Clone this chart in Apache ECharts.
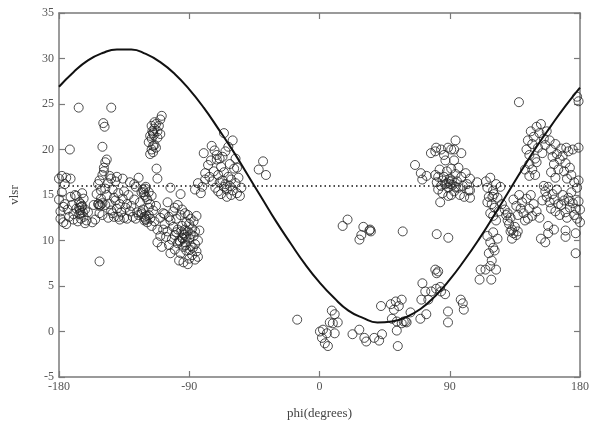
<!DOCTYPE html>
<html><head><meta charset="utf-8">
<script src="https://cdn.jsdelivr.net/npm/echarts@6/dist/echarts.min.js"></script>
<style>html,body{margin:0;padding:0;background:#fff}#c{width:592px;height:425px}</style>
</head><body><div id="c"></div>
<script>
// x axis ticks (phi, degrees) and y axis ticks (vlsr)
const xTicks = [-180, -90, 0, 90, 180];
const yTicks = [-5, 0, 5, 10, 15, 20, 25, 30, 35];
const refLevel = 16;

// fitted curve
const curvePhi = [-180,-170,-160,-150,-140,-130,-120,-110,-100,-90,-80,-70,-60,-50,-40,-30,-20,-10,0,10,20,30,40,50,60,70,80,90,100,110,120,130,140,150,160,170,180];
const curveV   = [26.9,28.5,29.8,30.6,31.0,31.0,30.5,29.6,28.3,26.6,24.6,22.3,19.9,17.3,14.7,12.1,9.7,7.4,5.4,3.7,2.3,1.5,1.0,1.1,1.6,2.5,3.9,5.7,7.8,10.1,12.6,15.2,17.8,20.3,22.6,24.8,26.8];

// observed points [phi, vlsr]
const obsWest = [
 [-180,14.5],[-179,13.2],[-178,15.3],[-177,12.0],[-176,14.0],[-175,16.9],[-174,13.4],[-178,17.1],[-173,12.6],[-172,14.8],
 [-171,13.9],[-170,12.3],[-169,15.0],[-175,11.8],[-179,12.4],[-177,13.7],[-172,16.8],[-170,12.9],[-168,13.5],[-167,12.1],
 [-166,14.2],[-165,13.0],[-164,13.8],[-163,12.6],[-164,15.2],[-162,13.4],[-161,12.2],[-163,14.6],[-165,12.4],[-166,13.6],
 [-162,11.9],[-160,13.1],[-168,14.9],[-176,16.2],[-180,16.8],[-157,12.0],[-152,7.7],[-172.5,20.0],[-166.4,24.6],[-143.9,24.6],
 [-149.4,22.9],[-148.5,22.5],[-150,20.3],[-165.5,13.3],[-164.5,13.7],[-166,12.9],[-163.5,13.1],[-164.8,14.0],
 [-152,16.6],[-153,16.2],[-150,17.2],[-149,18.0],[-148,18.6],[-147,18.9],[-149,17.6],[-151,15.5],[-153,14.0],[-152,13.8],
 [-150,14.1],[-148,13.9],[-147,15.0],[-146,16.3],[-145,17.1],[-144,16.8],[-143,15.6],[-142,14.7],[-141,16.5],[-140,17.0],
 [-139,15.2],[-138,14.0],[-137,13.1],[-136,16.8],[-135,15.4],[-134,13.6],[-133,12.4],[-132,15.0],[-131,16.4],[-130,13.8],
 [-129,12.6],[-128,14.5],[-127,15.9],[-126,13.1],[-125,12.8],[-124,14.2],[-123,15.3],[-122,13.4],[-121,12.2],[-120,14.8],
 [-146,12.5],[-144,13.3],[-142,12.6],[-140,13.5],[-138,12.3],[-150,12.8],[-155,12.3],[-156,13.9],[-154,15.1],[-145,14.0],
 [-141,14.4],[-136,14.6],[-133,14.0],[-128,16.2],[-125,16.9],[-143,13.0],[-148,15.7],[-151,14.6],[-152,13.0],[-139,12.6],
 [-135,12.5],[-131,13.2],[-127,12.4],[-123,13.1],[-152.5,14.0],[-151.5,13.9]
];
const obsColumn = [
 [-117,19.5],[-116,20.0],[-115,19.7],[-114,20.5],[-116,21.2],[-115,21.8],[-114,22.3],[-113,22.8],[-112,22.0],[-117,21.5],
 [-118,20.8],[-113,20.2],[-112,21.3],[-111,22.6],[-110,23.3],[-109,23.7],[-110,21.7],[-116,22.6],[-114,23.0],[-115,20.4],
 [-114.5,21.6],[-115.5,22.0],[-112.6,17.9],[-112,16.8]
];
const obsBlob = [
 [-122,15.6],[-121,15.0],[-120,15.9],[-119,14.5],[-118,15.3],[-117,14.0],[-121,12.6],[-120,12.3],[-119,12.0],[-118,12.8],
 [-117,12.4],[-116,11.6],[-115,13.3],[-114,12.1],[-113,13.8],[-112,11.2],[-123,12.9],[-118,13.6],[-116,14.9],
 [-121.5,15.3],[-120.5,15.7],[-120.5,12.4],[-119.5,12.7],
 [-103,15.8],[-96,15.1],[-98,13.9],[-100,13.6],[-105,14.2],[-108,13.0],[-110,12.5],[-107,11.8],[-105,11.0],[-103,12.2],
 [-101,11.5],[-100,10.6],[-99,12.4],[-98,11.2],[-97,10.0],[-96,12.8],[-95,11.6],[-94,10.8],[-93,9.8],[-92,12.0],
 [-91,11.0],[-90,10.2],[-89,9.4],[-88,11.3],[-87,10.5],[-86,9.6],[-85,8.8],[-84,10.0],[-83,11.1],[-88,8.4],
 [-90,8.0],[-92,8.9],[-94,9.3],[-96,8.6],[-98,9.7],[-100,9.0],[-102,10.1],[-104,9.5],[-106,10.4],[-108,11.2],
 [-95,13.4],[-93,13.0],[-91,12.8],[-89,12.4],[-87,12.1],[-97,7.8],[-94,7.6],[-91,7.4],[-86,7.9],[-84,8.2],
 [-101,13.2],[-99,10.9],[-95,10.3],[-93,11.2],[-90,11.8],[-92,10.4],[-89,10.7],[-86,11.0],[-104,12.6],[-107,12.9],
 [-110,10.5],[-112,9.8],[-109,9.3],[-103,8.6],[-85,12.7],[-86,15.6],[-81,15.9],[-84,16.3],[-82,15.2],
 [-94.5,10.2],[-95.5,11.0],[-93.5,10.6],[-96.5,9.9],[-92.5,9.5],[-89.5,9.0],[-87.5,9.2]
];
const obsNorth = [
 [-80,19.6],[-74.5,20.4],[-72.5,19.9],[-66,21.8],[-60,21.0],[-79,17.4],[-79,16.7],[-77,18.3],[-75,18.8],[-73,17.6],
 [-71,18.9],[-70,17.2],[-69,16.4],[-68,18.1],[-67,19.2],[-66,17.5],[-65,16.2],[-64,15.6],[-63,17.0],[-62,18.4],
 [-61,16.7],[-60,15.5],[-59,17.9],[-58,16.3],[-57,15.2],[-56,16.9],[-55,14.9],[-54,15.8],[-72,15.8],[-70,15.4],
 [-68,15.1],[-66,15.9],[-64,14.8],[-62,16.0],[-74,16.5],[-76,17.0],[-71,19.4],[-65,19.8],[-63,20.3],[-58,19.0],
 [-57,18.0],[-67,16.6],[-61,15.0],[-69,19.0],[-39,18.7],[-42,17.8],[-37,17.2]
];
const obsCentre = [
 [-15.4,1.3],[16,11.6],[19.4,12.3],[27.6,10.1],[28.9,10.6],[30.3,11.5],[34.5,11.1],[35.5,11.0],[35,11.2],[57.5,11.0],
 [8.5,2.3],[10.5,1.9],[12.6,1.0],[9.2,0.9],[7.1,1.0],[2.4,0.2],[5.1,-0.2],[1.7,-0.7],[3.7,-1.3],[5.8,-1.6],
 [10.5,-0.2],[0.3,0.0],[22.8,-0.3],[27.5,0.2],[31.0,-0.7],[32.3,-1.1],[37.8,-0.7],[41.2,-1.0],[43.2,-0.3],
 [42.5,2.8],[49.3,3.0],[52.7,3.3],[56.8,3.5],[51.4,2.4],[54.8,2.8],[50.0,1.4],[53.4,1.1],[58.2,1.1],[60.2,1.0],
 [53.4,0.1],[54.1,-1.6],[62.9,2.1],[69.7,1.4],[71.1,5.3],[73.1,4.4],[70.4,3.5],[75.2,3.5],[77.2,4.4],[80.6,4.7],
 [83.4,4.9],[84.0,4.4],[86.8,4.1],[73.8,1.9],[59.5,1.1],[56.8,0.9],[88.8,2.2],[88.8,1.0],[97.6,3.5],[99.0,3.1],
 [99.7,2.4],[110.6,5.7],[118.7,5.7],[111.3,6.8],[114.7,6.8],[80,6.8],[82,6.6],[81,6.4],[81,10.7],[89,10.3]
];
const obsEast = [
 [66,18.3],[70,17.4],[74,17.1],[71,16.7],[80,19.8],[84,20.0],[86,19.4],[87,18.8],[91,20.0],[93,20.0],
 [98,19.6],[93,18.8],[94,21.0],[77,19.6],[88.8,20.2],[80.6,20.2],
 [80,17.2],[81,16.4],[82,15.6],[83,17.8],[84,16.0],[85,15.2],[86,17.0],[87,16.2],[88,17.6],[89,15.8],
 [90,16.8],[91,17.9],[92,16.1],[93,15.4],[94,17.3],[95,16.5],[96,18.0],[97,15.0],[98,17.0],[99,16.0],
 [100,14.8],[101,17.4],[102,16.2],[103,15.5],[104,16.8],[89,14.9],[85,16.6],[91,15.0],[96,15.8],[82,17.0],
 [88,16.3],[94,15.9],[109,16.4],[104,15.5],[104,14.7],[83.4,14.2],[89.5,16.5],[90.5,16.2],[91.5,16.6]
];
const obsFarEast = [
 [115,16.5],[116,15.8],[117,14.8],[118,16.9],[119,14.0],[120,15.5],[121,13.6],[122,16.2],[123,14.7],[124,13.2],
 [125,15.9],[118,13.0],[120,12.7],[116,14.2],[126,14.0],[122,12.2],[119.5,14.8],[120.5,15.1],
 [116,10.5],[118,9.8],[120,9.2],[117,8.6],[119,7.8],[121,8.9],[123,10.2],[120,10.9],[118,7.2],[122,6.8],
 [128,13.4],[129,12.8],[130,12.2],[131,11.8],[132,12.5],[133,11.2],[134,10.8],[135,11.5],[136,10.6],[137,11.0],
 [130,13.0],[132,11.0],[133,10.2],
 [134,14.5],[136,13.8],[138,15.0],[140,14.2],[141,13.0],[143,14.6],[145,13.5],[147,12.7],[148,14.0],[150,13.2],
 [152,12.5],[154,14.4],[137,12.8],[142,12.2],[146,15.0],[139,13.5],[144,12.4],
 [143,20.0],[144,21.0],[145,19.4],[146,22.0],[147,20.6],[148,21.4],[149,19.0],[150,22.5],[151,20.2],[152,21.8],
 [153,22.8],[154,19.6],[155,21.2],[156,20.5],[145,18.4],[147,17.8],[149,17.2],[150,18.6],[157,22.0],[142,17.8],
 [145,17.1],[137.8,25.2],
 [159,21.0],[160,20.0],[161,19.2],[162,18.4],[163,20.6],[164,19.5],[165,17.8],[166,18.9],[167,20.1],[168,19.3],
 [169,17.6],[170,18.5],[171,16.8],[172,19.8],[173,18.0],[174,17.2],[160,17.5],[163,16.9],[175,20.0],[176,16.4],
 [170.5,20.2],[179,20.2],[178,25.8],[179,25.3],
 [155,16.0],[156,15.4],[157,14.8],[158,15.9],[159,14.2],[160,13.5],[161,15.1],[162,14.5],[163,13.2],[164,15.6],
 [165,14.0],[166,12.8],[167,13.9],[168,15.0],[169,14.4],[170,13.1],[171,12.5],[172,14.7],[173,13.6],[174,15.3],
 [175,14.1],[176,12.8],[177,13.5],[178,15.8],[179,14.3],[180,13.4],[180,12.0],[179,16.6],[178,12.4],[172.5,14.3],
 [153,10.2],[156,9.8],[158,11.6],[158,10.8],[162,11.2],[170,11.1],[170,10.4],[177,10.8],[177,8.6]
];

const observed = [].concat(obsWest, obsColumn, obsBlob, obsNorth, obsCentre, obsEast, obsFarEast);
const curve = curvePhi.map((p, i) => [p, curveV[i]]);
const refLine = [[xTicks[0], refLevel], [xTicks[xTicks.length - 1], refLevel]];

const font = 'Liberation Serif';
const axisCommon = {
  type: 'value',
  axisLine: { show: true, onZero: false, lineStyle: { color: '#7a7a7a', width: 1.5 } },
  axisTick: { show: true, inside: true, length: 6, lineStyle: { color: '#7a7a7a', width: 1.2 } },
  splitLine: { show: false },
  axisLabel: { color: '#555', fontFamily: font, fontSize: 12 }
};

const chart = echarts.init(document.getElementById('c'), null, { renderer: 'canvas' });
chart.setOption({
  animation: false,
  backgroundColor: '#fff',
  grid: { left: 55, right: 8, top: 13, bottom: 43 },
  xAxis: [
    Object.assign({}, axisCommon, { position: 'bottom', min: -180, max: 180, interval: 90,
      name: 'phi(degrees)', nameLocation: 'middle', nameGap: 30,
      nameTextStyle: { color: '#444', fontFamily: font, fontSize: 13 },
      axisLabel: { color: '#555', fontFamily: font, fontSize: 12, margin: 4 } }),
    Object.assign({}, axisCommon, { position: 'top', min: -180, max: 180, interval: 90, axisLabel: { show: false } })
  ],
  yAxis: [
    Object.assign({}, axisCommon, { position: 'left', min: -5, max: 35, interval: 5,
      name: 'vlsr', nameLocation: 'middle', nameGap: 38, nameRotate: 90,
      nameTextStyle: { color: '#444', fontFamily: font, fontSize: 13 },
      axisLabel: { color: '#555', fontFamily: font, fontSize: 12, margin: 5 } }),
    Object.assign({}, axisCommon, { position: 'right', min: -5, max: 35, interval: 5, axisLabel: { show: false } })
  ],
  series: [
    { type: 'scatter', data: observed, symbol: 'circle', symbolSize: 9,
      itemStyle: { color: 'rgba(0,0,0,0)', borderColor: '#222', borderWidth: 1 }, z: 3 },
    { type: 'line', data: refLine, symbol: 'none',
      lineStyle: { color: '#111', width: 1.5, type: [1.5, 3] }, z: 2 },
    { type: 'line', data: curve, symbol: 'none', smooth: true,
      lineStyle: { color: '#111', width: 2 }, z: 4 }
  ]
});
</script>
</body></html>
